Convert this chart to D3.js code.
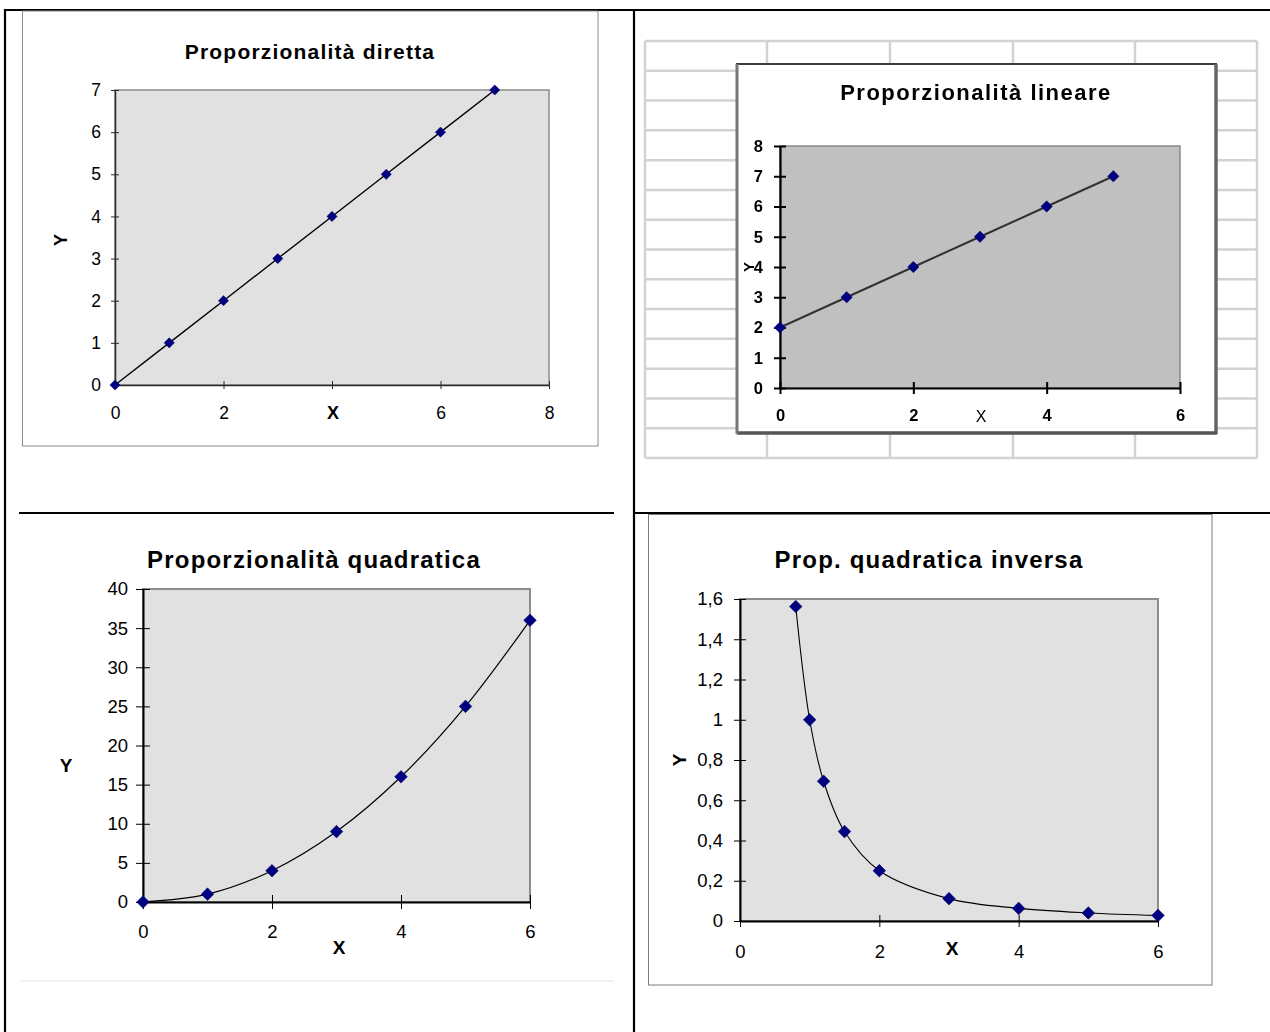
<!DOCTYPE html>
<html>
<head>
<meta charset="utf-8">
<script src="https://cdn.jsdelivr.net/npm/d3@7"></script>
<style>
  body { margin: 0; background: #fff; }
  svg { display: block; }
  text { font-family: "Liberation Sans", Arial, Helvetica, sans-serif; }
</style>
</head>
<body>
<svg id="page" width="1270" height="1032"></svg>
<script>
// ---- Proporzionalità diretta: y = x
const direttaX = [0, 1, 2, 3, 4, 5, 6, 7];
const direttaY = [0, 1, 2, 3, 4, 5, 6, 7];
const direttaXTicks = [0, 2, 4, 6, 8];
const direttaYTicks = [0, 1, 2, 3, 4, 5, 6, 7];

// ---- Proporzionalità lineare: y = x + 2
const lineareX = [0, 1, 2, 3, 4, 5];
const lineareY = [2, 3, 4, 5, 6, 7];
const lineareXTicks = [0, 2, 4, 6];
const lineareYTicks = [0, 1, 2, 3, 4, 5, 6, 7, 8];

// ---- Proporzionalità quadratica: y = x²
const quadX = [0, 1, 2, 3, 4, 5, 6];
const quadY = [0, 1, 4, 9, 16, 25, 36];
const quadXTicks = [0, 2, 4, 6];
const quadYTicks = [0, 5, 10, 15, 20, 25, 30, 35, 40];

// ---- Prop. quadratica inversa: y = 1/x²
const invX = [0.8, 1, 1.2, 1.5, 2, 3, 4, 5, 6];
const invY = [1.5625, 1, 0.6944, 0.4444, 0.25, 0.1111, 0.0625, 0.04, 0.0278];
const invXTicks = [0, 2, 4, 6];
const invYTicks = [0, 0.2, 0.4, 0.6, 0.8, 1, 1.2, 1.4, 1.6];

const titles = {
  diretta: "Proporzionalità diretta",
  lineare: "Proporzionalità lineare",
  quad: "Proporzionalità quadratica",
  inv: "Prop. quadratica inversa"
};

const itLocale = d3.formatLocale({ decimal: ",", thousands: ".", grouping: [3], currency: ["€", ""] });
const fmtComma = itLocale.format(".1~f");

const svg = d3.select("#page");
svg.append("rect").attr("width", 1270).attr("height", 1032).attr("fill", "#fff");

const defs = svg.append("defs");
defs.append("filter").attr("id", "soft")
  .attr("x", "-5%").attr("y", "-5%").attr("width", "110%").attr("height", "110%")
  .append("feGaussianBlur").attr("stdDeviation", 0.45);

// text helper: (cx, cy) is the visual centre of capital-height text
function label(g, txt, cx, cy, o) {
  const t = g.append("text")
    .attr("x", cx).attr("y", cy + 0.36 * o.size)
    .attr("text-anchor", o.anchor || "middle")
    .attr("font-size", o.size)
    .attr("font-weight", o.bold ? "bold" : "normal")
    .attr("fill", o.color || "#000")
    .text(txt);
  if (o.spacing) t.attr("letter-spacing", o.spacing);
  return t;
}

function rotatedLabel(g, txt, cx, cy, o) {
  g.append("g").attr("transform", `translate(${cx},${cy}) rotate(-90)`)
    .append("text")
    .attr("x", 0).attr("y", 0.36 * o.size)
    .attr("text-anchor", "middle")
    .attr("font-size", o.size)
    .attr("font-weight", o.bold ? "bold" : "normal")
    .attr("fill", o.color || "#000")
    .text(txt);
}

function drawChart(g, o) {
  const p = o.plot;
  const x = d3.scaleLinear().domain(o.xDomain).range([p.x0, p.x1]);
  const y = d3.scaleLinear().domain(o.yDomain).range([p.y1, p.y0]);

  // plot area
  g.append("rect")
    .attr("x", p.x0).attr("y", p.y0)
    .attr("width", p.x1 - p.x0).attr("height", p.y1 - p.y0)
    .attr("fill", o.plotFill)
    .attr("stroke", o.plotStroke).attr("stroke-width", o.plotStrokeWidth);

  // y axis
  const ya = g.append("g").attr("transform", `translate(${p.x0},0)`)
    .call(d3.axisLeft(y).tickValues(o.yTicks).tickSizeInner(o.tick).tickSizeOuter(0)
      .tickPadding(o.yPad).tickFormat(o.yFormat || d3.format("~g")));
  // x axis
  const xa = g.append("g").attr("transform", `translate(0,${p.y1})`)
    .call(d3.axisBottom(x).tickValues(o.xTicks).tickSizeInner(o.tick).tickSizeOuter(0)
      .tickPadding(o.xPad).tickFormat(d3.format("~g")));

  [ya, xa].forEach(a => {
    a.attr("font-family", null).attr("font-size", null).attr("color", o.axisColor);
    a.select(".domain").attr("stroke-width", o.axisWidth);
    a.selectAll(".tick line").attr("stroke-width", o.tickWidth || 1);
    a.selectAll(".tick text")
      .attr("font-size", o.tickFont)
      .attr("font-weight", o.tickBold ? "bold" : "normal")
      .attr("fill", "#000");
  });
  // ticks cross the axis line
  ya.selectAll(".tick line").attr("x1", o.tick).attr("x2", -o.tick);
  xa.selectAll(".tick line").attr("y1", -o.tick).attr("y2", o.tick);

  // series line
  const pts = o.xs.map((v, i) => [v, o.ys[i]]);
  g.append("path").datum(pts)
    .attr("fill", "none")
    .attr("stroke", o.lineColor).attr("stroke-width", o.lineWidth)
    .attr("d", d3.line().x(d => x(d[0])).y(d => y(d[1])).curve(o.curve || d3.curveLinear));

  // diamond markers
  g.selectAll("path.marker").data(pts).join("path")
    .attr("class", "marker")
    .attr("d", d3.symbol(d3.symbolSquare, o.markerArea))
    .attr("transform", d => `translate(${x(d[0])},${y(d[1])}) rotate(45)`)
    .attr("fill", "#000080")
    .attr("stroke", "#000060").attr("stroke-width", 0.5);

  return { x, y, xa, ya };
}

// ================= table frame =================
const table = svg.append("g").attr("stroke", "#000").attr("stroke-width", 2.2);
table.append("line").attr("x1", 4).attr("x2", 1270).attr("y1", 10).attr("y2", 10);
table.append("line").attr("x1", 5).attr("x2", 5).attr("y1", 9).attr("y2", 1032);
table.append("line").attr("x1", 634).attr("x2", 634).attr("y1", 9).attr("y2", 1032);
table.append("line").attr("x1", 634).attr("x2", 1270).attr("y1", 513).attr("y2", 513);

// ================= chart 1: diretta =================
const c1 = svg.append("g");
c1.append("rect").attr("x", 22.5).attr("y", 11).attr("width", 575.5).attr("height", 435)
  .attr("fill", "#fff").attr("stroke", "#8a8a8a").attr("stroke-width", 1);
drawChart(c1, {
  plot: { x0: 115, x1: 549, y0: 90, y1: 385 },
  xDomain: [0, 8], yDomain: [0, 7],
  xTicks: direttaXTicks, yTicks: direttaYTicks,
  xs: direttaX, ys: direttaY,
  tick: 4, yPad: 10, xPad: 18, tickFont: 17.5,
  plotFill: "#e1e1e1", plotStroke: "#8c8c8c", plotStrokeWidth: 1.5,
  axisColor: "#2a2a2a", axisWidth: 1.5,
  lineColor: "#000", lineWidth: 1.4, markerArea: 52
});
label(c1, titles.diretta, 310, 51, { size: 21, bold: true, spacing: 1.2 });
c1.append("rect").attr("x", 322).attr("y", 402).attr("width", 22).attr("height", 22).attr("fill", "#fff");
label(c1, "X", 333, 413, { size: 18, bold: true });
rotatedLabel(c1, "Y", 61, 240, { size: 18, bold: true });

// ================= chart 2: lineare (worksheet snapshot) =================
const c2 = svg.append("g").attr("filter", "url(#soft)");
const gridTop = 41, gridBottom = 458, gridLeft = 645, gridRight = 1257;
c2.append("rect").attr("x", gridLeft).attr("y", gridTop)
  .attr("width", gridRight - gridLeft).attr("height", gridBottom - gridTop).attr("fill", "#fff");
const rowLines = d3.range(15).map(i => gridTop + i * (gridBottom - gridTop) / 14);
c2.selectAll("line.row").data(rowLines).join("line")
  .attr("x1", gridLeft).attr("x2", gridRight).attr("y1", d => d).attr("y2", d => d)
  .attr("stroke", "#d2d2d2").attr("stroke-width", 2.5);
const colLines = [645, 767, 890, 1013, 1135, 1257];
c2.selectAll("line.col").data(colLines).join("line")
  .attr("x1", d => d).attr("x2", d => d).attr("y1", gridTop).attr("y2", gridBottom)
  .attr("stroke", "#d2d2d2").attr("stroke-width", 2.5);
// chart window with shadowed edge
c2.append("rect").attr("x", 737).attr("y", 64).attr("width", 479).attr("height", 369)
  .attr("fill", "#fff").attr("stroke", "#3c3c3c").attr("stroke-width", 2);
c2.append("line").attr("x1", 1216).attr("x2", 1216).attr("y1", 64).attr("y2", 434)
  .attr("stroke", "#666").attr("stroke-width", 3.5);
c2.append("line").attr("x1", 737).attr("x2", 1217).attr("y1", 433).attr("y2", 433)
  .attr("stroke", "#555").attr("stroke-width", 3.5);
c2.append("line").attr("x1", 737).attr("x2", 737).attr("y1", 64).attr("y2", 434)
  .attr("stroke", "#777").attr("stroke-width", 3);
drawChart(c2, {
  plot: { x0: 780, x1: 1180, y0: 146, y1: 388 },
  xDomain: [0, 6], yDomain: [0, 8],
  xTicks: lineareXTicks, yTicks: lineareYTicks,
  xs: lineareX, ys: lineareY,
  tick: 6, yPad: 11, xPad: 15, tickFont: 16.5, tickBold: true,
  plotFill: "#c0c0c0", plotStroke: "#8a8a8a", plotStrokeWidth: 1.5,
  axisColor: "#000", axisWidth: 2.2, tickWidth: 2,
  lineColor: "#333", lineWidth: 2, markerArea: 64
});
label(c2, titles.lineare, 976, 92, { size: 22, bold: true, spacing: 1.5 });
label(c2, "X", 981, 416, { size: 16 });
rotatedLabel(c2, "Y", 749, 267, { size: 15, bold: true });

// ================= chart 3: quadratica =================
const c3 = svg.append("g");
c3.append("line").attr("x1", 19).attr("x2", 614).attr("y1", 513).attr("y2", 513)
  .attr("stroke", "#000").attr("stroke-width", 2.2);
c3.append("line").attr("x1", 19).attr("x2", 614).attr("y1", 981).attr("y2", 981)
  .attr("stroke", "#e6e6e6").attr("stroke-width", 1);
drawChart(c3, {
  plot: { x0: 143, x1: 530, y0: 589, y1: 902 },
  xDomain: [0, 6], yDomain: [0, 40],
  xTicks: quadXTicks, yTicks: quadYTicks,
  xs: quadX, ys: quadY,
  tick: 7, yPad: 8, xPad: 16, tickFont: 18.5,
  plotFill: "#e1e1e1", plotStroke: "#8c8c8c", plotStrokeWidth: 2,
  axisColor: "#000", axisWidth: 2,
  lineColor: "#000", lineWidth: 1.2, markerArea: 80,
  curve: d3.curveCatmullRom
});
label(c3, titles.quad, 314, 559, { size: 24, bold: true, spacing: 1.2 });
label(c3, "X", 339, 947, { size: 19, bold: true });
label(c3, "Y", 66, 765, { size: 19, bold: true });

// ================= chart 4: quadratica inversa =================
const c4 = svg.append("g");
c4.append("rect").attr("x", 648.5).attr("y", 514.5).attr("width", 563.5).attr("height", 470.5)
  .attr("fill", "#fff").attr("stroke", "#7a7a7a").attr("stroke-width", 1);
drawChart(c4, {
  plot: { x0: 740, x1: 1158, y0: 599, y1: 921 },
  xDomain: [0, 6], yDomain: [0, 1.6],
  xTicks: invXTicks, yTicks: invYTicks, yFormat: fmtComma,
  xs: invX, ys: invY,
  tick: 6, yPad: 11, xPad: 18, tickFont: 18.5,
  plotFill: "#e1e1e1", plotStroke: "#8c8c8c", plotStrokeWidth: 2,
  axisColor: "#000", axisWidth: 2,
  lineColor: "#000", lineWidth: 1.1, markerArea: 80,
  curve: d3.curveCatmullRom
});
label(c4, titles.inv, 929, 559, { size: 24, bold: true, spacing: 1.2 });
label(c4, "X", 952, 948, { size: 19, bold: true });
rotatedLabel(c4, "Y", 679, 760, { size: 19, bold: true });
</script>
</body>
</html>
